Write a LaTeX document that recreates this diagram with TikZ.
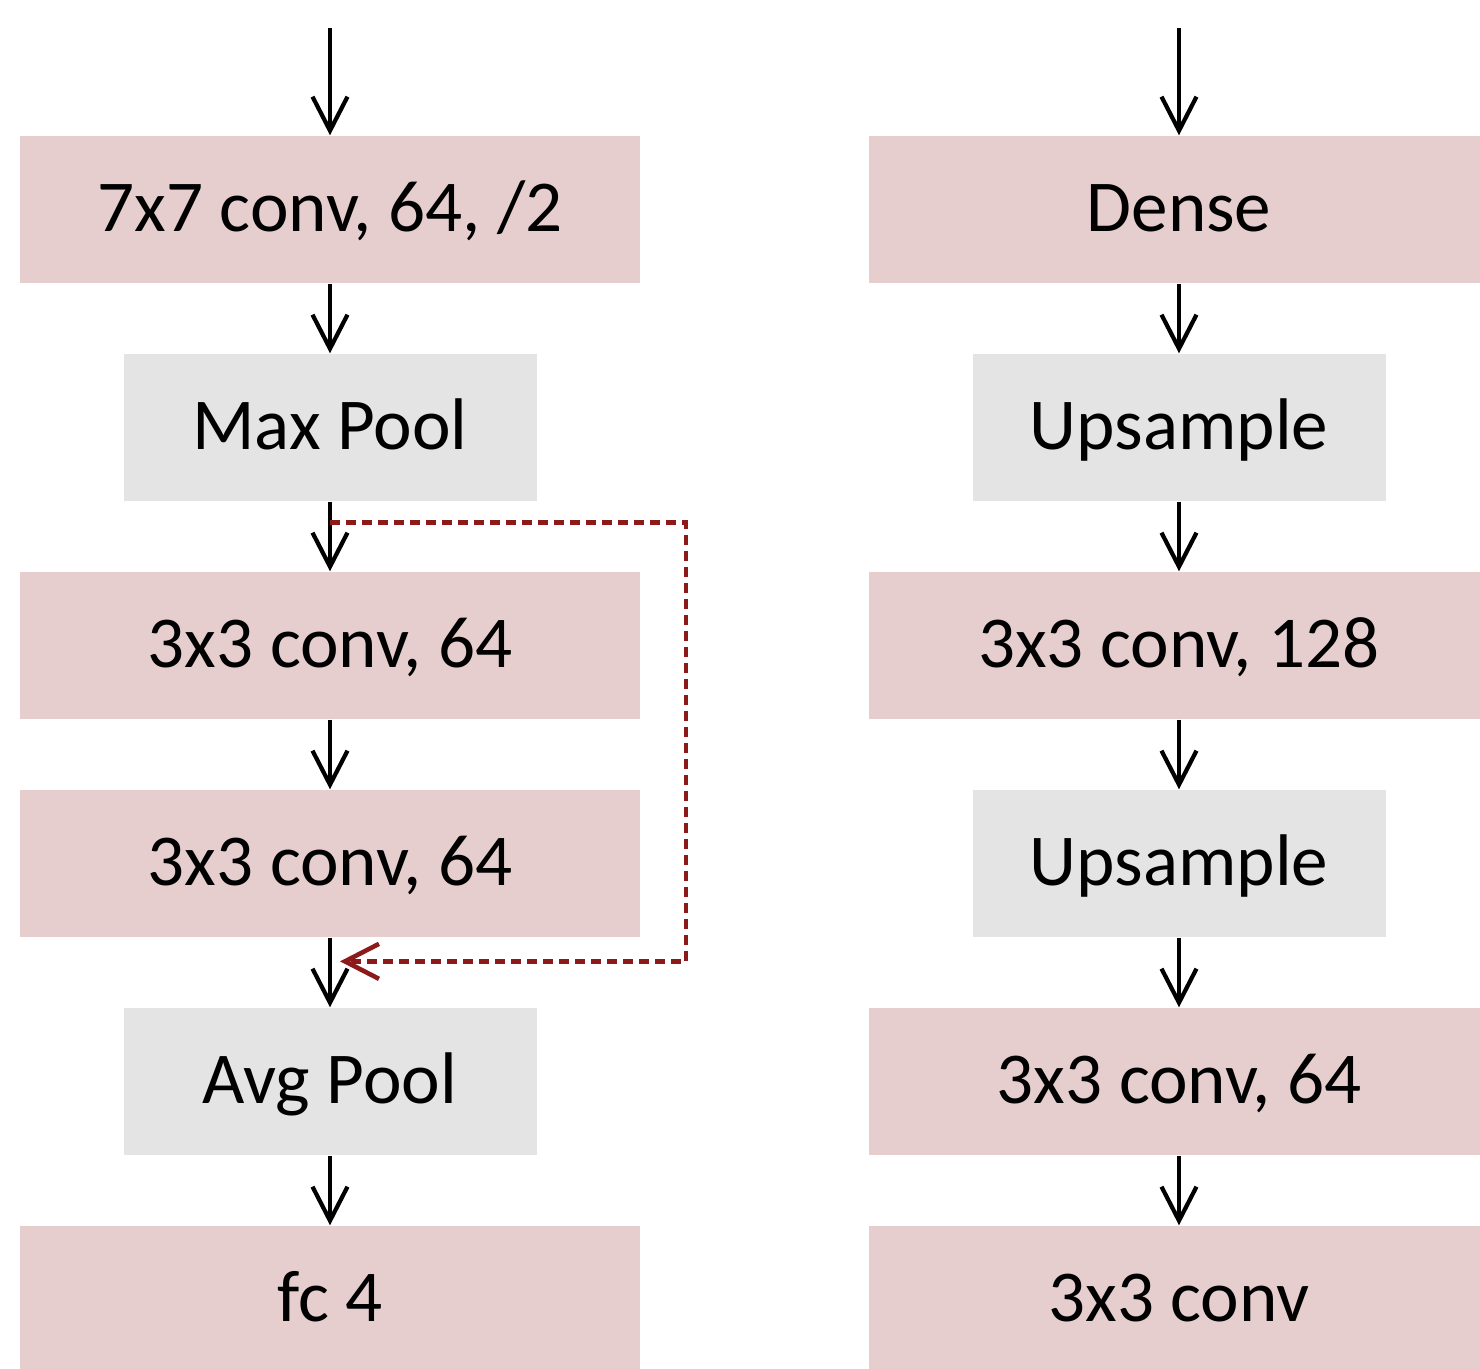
\documentclass[tikz,border=0pt]{standalone}
\usepackage{fontspec}
\setmainfont{Carlito}
\usetikzlibrary{arrows.meta}
\definecolor{convpink}{RGB}{230,206,207}
\definecolor{poolgray}{RGB}{228,228,228}
\definecolor{skipred}{RGB}{140,26,26}

\begin{document}
\begin{tikzpicture}[node distance=21.8mm, >={Straight Barb[length=3.4mm, width=3.5mm]},
  convblock/.style={rectangle, fill=convpink, minimum width=62mm, minimum height=14.7mm, inner sep=0pt, text height=4.5mm, text depth=0pt, font=\fontsize{20.8}{25}\selectfont},
  poolblock/.style={convblock, fill=poolgray, minimum width=41.3mm},
  flowarrow/.style={->, line width=1.2pt},
  skiparrow/.style={->, draw=skipred, line width=1.3pt, dash pattern=on 1mm off 0.6mm}]
  \useasboundingbox (0,0) rectangle (14.8,-13.69);
  {
  % classifier
  \node[convblock] (enc1) at (3.30,-2.095) {7x7 conv, 64, /2};
  \node[poolblock, below of=enc1] (enc2) {Max Pool};
  \node[convblock, below of=enc2] (enc3) {3x3 conv, 64};
  \node[convblock, below of=enc3] (enc4) {3x3 conv, 64};
  \node[poolblock, below of=enc4] (enc5) {Avg Pool};
  \node[convblock, below of=enc5] (enc6) {fc 4};
  \node[coordinate, above of=enc1, node distance=18.15mm] (encin) {};

  \draw[flowarrow] (encin) -- (enc1);
  \draw[flowarrow] (enc1) -- (enc2);
  \draw[flowarrow] (enc2) -- node[coordinate, pos=0.3] (skipin) {} (enc3);
  \draw[flowarrow] (enc3) -- (enc4);
  \draw[flowarrow] (enc4) -- node[coordinate, pos=0.34] (skipout) {} (enc5);
  \draw[flowarrow] (enc5) -- (enc6);
  \draw[skiparrow] (skipin) -- ++(3.56,0) |- ([xshift=1mm]skipout);

  % generator
  \node[convblock] (dec1) at (11.79,-2.095) {Dense};
  \node[poolblock, below of=dec1] (dec2) {Upsample};
  \node[convblock, below of=dec2] (dec3) {3x3 conv, 128};
  \node[poolblock, below of=dec3] (dec4) {Upsample};
  \node[convblock, below of=dec4] (dec5) {3x3 conv, 64};
  \node[convblock, below of=dec5] (dec6) {3x3 conv};
  \node[coordinate, above of=dec1, node distance=18.15mm] (decin) {};

  \draw[flowarrow] (decin) -- (dec1);
  \draw[flowarrow] (dec1) -- (dec2);
  \draw[flowarrow] (dec2) -- (dec3);
  \draw[flowarrow] (dec3) -- (dec4);
  \draw[flowarrow] (dec4) -- (dec5);
  \draw[flowarrow] (dec5) -- (dec6);
  }
\end{tikzpicture}
\end{document}
